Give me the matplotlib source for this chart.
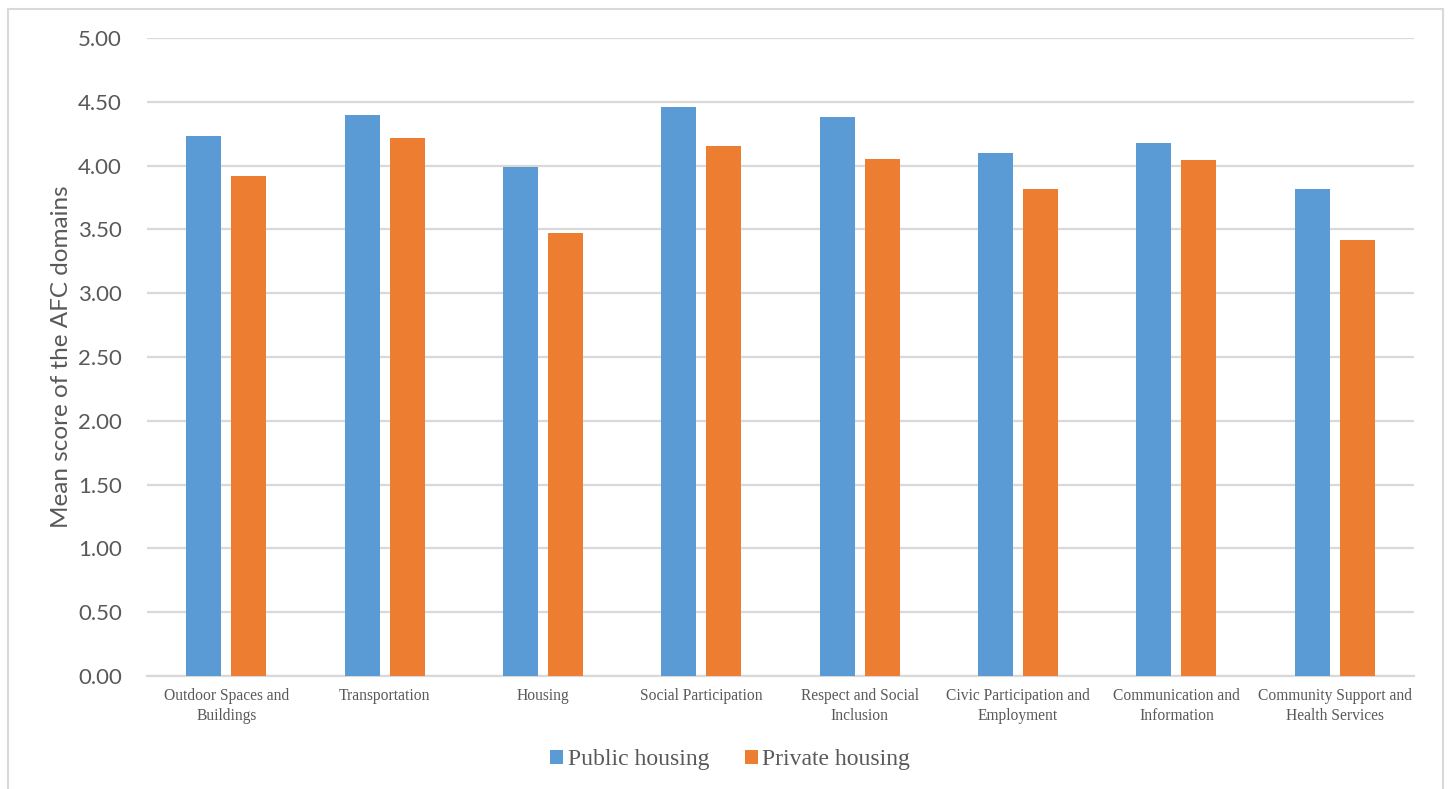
import matplotlib
matplotlib.use("Agg")
import matplotlib.pyplot as plt
import numpy as np
from matplotlib.patches import Rectangle

categories = [
    "Outdoor Spaces and\nBuildings",
    "Transportation",
    "Housing",
    "Social Participation",
    "Respect and Social\nInclusion",
    "Civic Participation and\nEmployment",
    "Communication and\nInformation",
    "Community Support and\nHealth Services",
]
public_housing = [4.23, 4.40, 3.99, 4.46, 4.38, 4.10, 4.18, 3.82]
private_housing = [3.92, 4.22, 3.47, 4.15, 4.05, 3.82, 4.04, 3.42]
y_ticks = [0.0, 0.5, 1.0, 1.5, 2.0, 2.5, 3.0, 3.5, 4.0, 4.5, 5.0]

BLUE = "#5B9BD5"
ORANGE = "#ED7D31"
GRID = "#D9D9D9"
TEXT = "#595959"

W, H = 1451, 789
fig = plt.figure(figsize=(W / 100, H / 100), dpi=100)
fig.patch.set_facecolor("white")

# outer chart frame
fig.patches.append(Rectangle((8 / W, -0.01), (1443 - 8) / W, (H - 9) / H + 0.01,
                             transform=fig.transFigure, fill=False,
                             edgecolor=GRID, linewidth=1.5, zorder=0))

ax = fig.add_axes([147 / W, 1 - 676 / H, (1414 - 147) / W, (676 - 38) / H])
x = np.arange(len(categories))
bw = 0.221
ax.bar(x - 0.142, public_housing, bw, color=BLUE, label="Public housing", zorder=3)
ax.bar(x + 0.142, private_housing, bw, color=ORANGE, label="Private housing", zorder=3)

ax.set_xlim(-0.5, len(categories) - 0.5)
ax.set_ylim(0, 5.0)
ax.set_yticks(y_ticks)
ax.set_yticklabels([f"{v:.2f}" for v in y_ticks], fontfamily="Lato", fontsize=16, color=TEXT)
ax.yaxis.grid(True, color=GRID, linewidth=1.6, zorder=0)
ax.set_axisbelow(True)
ax.tick_params(axis="y", length=0, pad=18)
ax.tick_params(axis="x", length=0, pad=9)
ax.set_xticks(x)
ax.set_xticklabels(categories, fontfamily="Liberation Serif", fontsize=11.2,
                   color=TEXT, linespacing=1.25)
for s in ["top", "right", "left"]:
    ax.spines[s].set_visible(False)
ax.spines["bottom"].set_color(GRID)
ax.spines["bottom"].set_linewidth(1.6)

ax.set_ylabel("Mean score of the AFC domains", fontfamily="Lato", fontsize=17.5,
              color=TEXT)
ax.yaxis.set_label_coords((72 - 147) / 1267, 0.5)

leg = fig.legend(loc="center", bbox_to_anchor=(730 / W, 1 - 760 / H), ncol=2,
                 frameon=False, prop={"family": "Liberation Serif", "size": 17},
                 handlelength=0.55, handleheight=0.55, handletextpad=0.2,
                 columnspacing=1.5)
for t in leg.get_texts():
    t.set_color(TEXT)

fig.savefig("out.png", dpi=100, facecolor="white")
